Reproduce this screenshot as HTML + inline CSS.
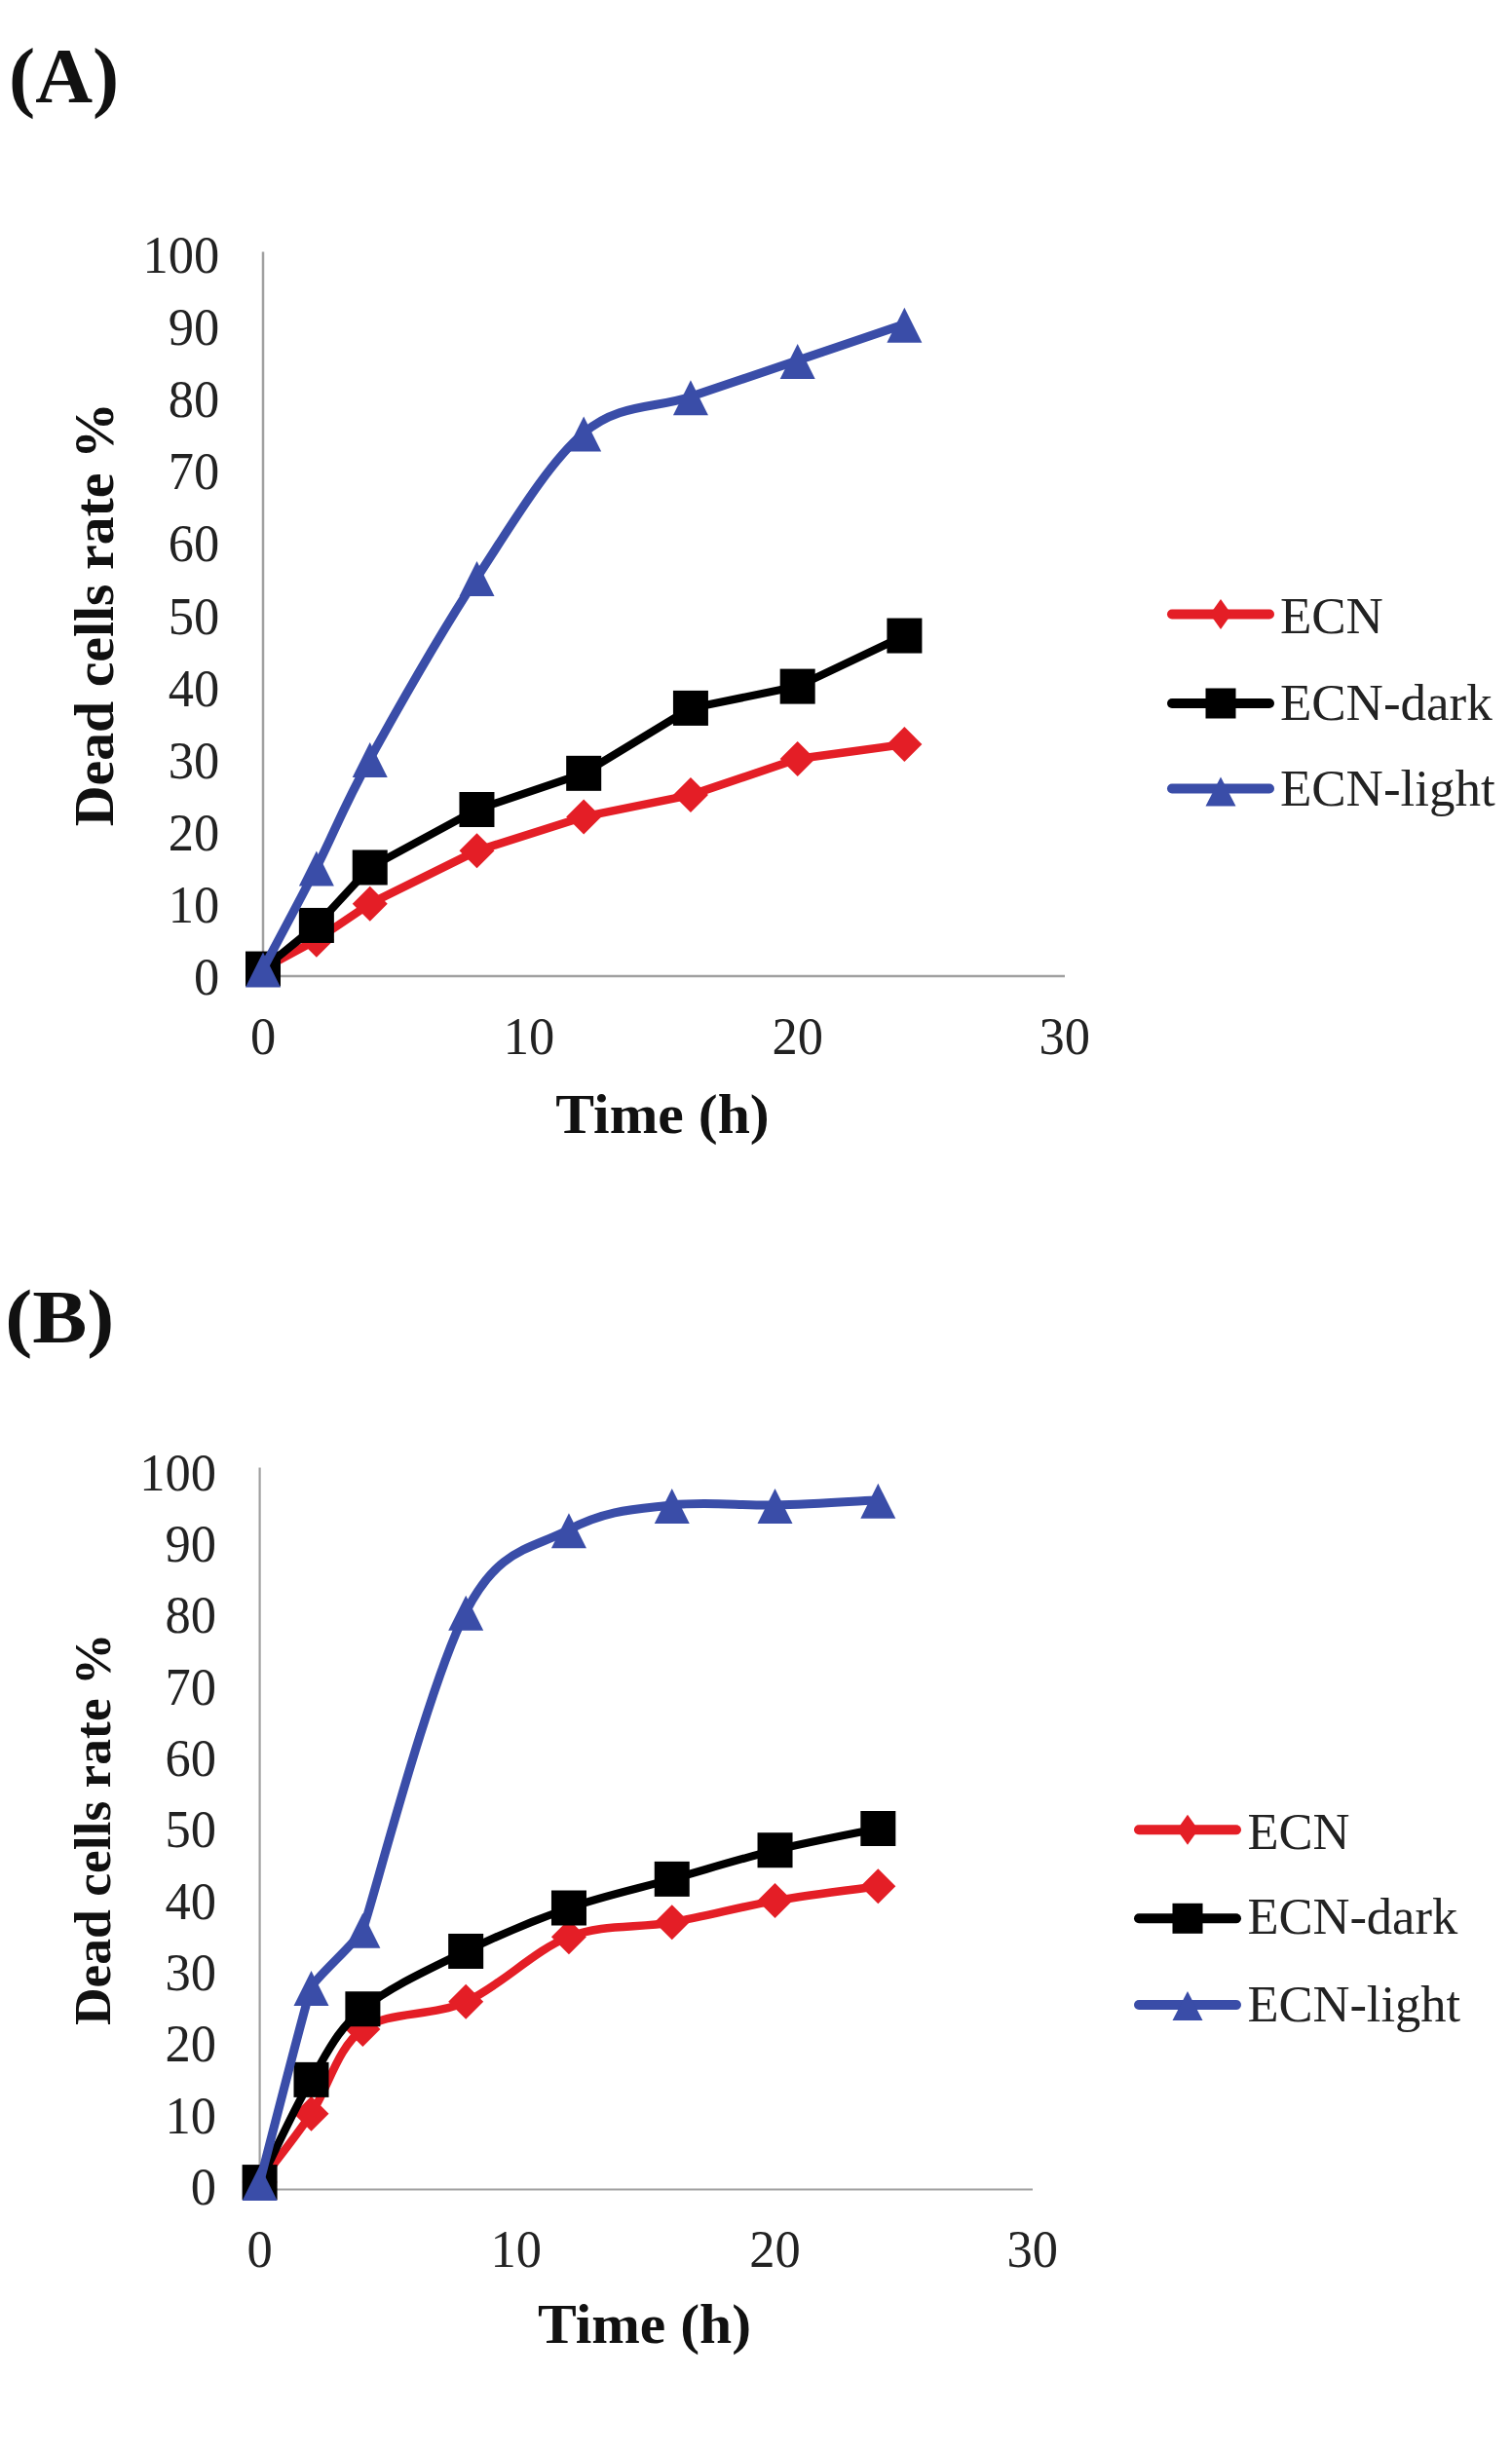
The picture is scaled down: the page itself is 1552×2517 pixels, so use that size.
<!DOCTYPE html>
<html><head><meta charset="utf-8"><title>Dead cells rate</title>
<style>html,body{margin:0;padding:0;background:#fff;width:1552px;height:2517px;overflow:hidden}svg{display:block}</style>
</head><body>
<svg width="1552" height="2517" viewBox="0 0 1552 2517">
<rect width="1552" height="2517" fill="#fff"/>
<g font-family="Liberation Serif, serif" font-size="100" fill="#1a1a1a">
<line x1="270" y1="258.5" x2="270" y2="1002" stroke="#A0A0A0" stroke-width="2.5"/>
<line x1="270" y1="1002" x2="1093" y2="1002" stroke="#A0A0A0" stroke-width="2.5"/>
<path d="M270.00,994.57 L324.87,964.83 L379.73,927.65 L489.47,873.37 L599.20,838.43 L708.93,816.12 L818.67,778.95 L928.40,764.08" fill="none" stroke="#E41E26" stroke-width="8.5" stroke-linejoin="round" stroke-linecap="round"/>
<path d="M270.00,976.57 L288.00,994.57 L270.00,1012.57 L252.00,994.57 Z" fill="#E41E26"/>
<path d="M324.87,946.83 L342.87,964.83 L324.87,982.83 L306.87,964.83 Z" fill="#E41E26"/>
<path d="M379.73,909.65 L397.73,927.65 L379.73,945.65 L361.73,927.65 Z" fill="#E41E26"/>
<path d="M489.47,855.37 L507.47,873.37 L489.47,891.37 L471.47,873.37 Z" fill="#E41E26"/>
<path d="M599.20,820.43 L617.20,838.43 L599.20,856.43 L581.20,838.43 Z" fill="#E41E26"/>
<path d="M708.93,798.12 L726.93,816.12 L708.93,834.12 L690.93,816.12 Z" fill="#E41E26"/>
<path d="M818.67,760.95 L836.67,778.95 L818.67,796.95 L800.67,778.95 Z" fill="#E41E26"/>
<path d="M928.40,746.08 L946.40,764.08 L928.40,782.08 L910.40,764.08 Z" fill="#E41E26"/>
<path d="M270.00,994.57 L324.87,949.96 L379.73,890.48 L489.47,831.00 L599.20,793.82 L708.93,726.90 L818.67,704.60 L928.40,652.56" fill="none" stroke="#000000" stroke-width="8.2" stroke-linejoin="round" stroke-linecap="round"/>
<rect x="252.00" y="976.57" width="36" height="36" fill="#000000"/>
<rect x="306.87" y="931.96" width="36" height="36" fill="#000000"/>
<rect x="361.73" y="872.48" width="36" height="36" fill="#000000"/>
<rect x="471.47" y="813.00" width="36" height="36" fill="#000000"/>
<rect x="581.20" y="775.82" width="36" height="36" fill="#000000"/>
<rect x="690.93" y="708.90" width="36" height="36" fill="#000000"/>
<rect x="800.67" y="686.60" width="36" height="36" fill="#000000"/>
<rect x="910.40" y="634.56" width="36" height="36" fill="#000000"/>
<path d="M270.00,994.57 C279.14,977.22 306.58,926.41 324.87,890.48 C343.16,854.54 352.30,828.52 379.73,778.95 C407.17,729.38 452.89,648.84 489.47,593.08 C526.04,537.31 562.62,475.35 599.20,444.38 C635.78,413.40 672.36,419.59 708.93,407.20 C745.51,394.81 782.09,382.42 818.67,370.02 C855.24,357.63 910.11,339.05 928.40,332.85" fill="none" stroke="#3A4DA8" stroke-width="9" stroke-linejoin="round" stroke-linecap="round"/>
<path d="M270.00,977.57 L288.00,1013.57 L252.00,1013.57 Z" fill="#3A4DA8"/>
<path d="M324.87,873.48 L342.87,909.48 L306.87,909.48 Z" fill="#3A4DA8"/>
<path d="M379.73,761.95 L397.73,797.95 L361.73,797.95 Z" fill="#3A4DA8"/>
<path d="M489.47,576.08 L507.47,612.08 L471.47,612.08 Z" fill="#3A4DA8"/>
<path d="M599.20,427.38 L617.20,463.38 L581.20,463.38 Z" fill="#3A4DA8"/>
<path d="M708.93,390.20 L726.93,426.20 L690.93,426.20 Z" fill="#3A4DA8"/>
<path d="M818.67,353.02 L836.67,389.02 L800.67,389.02 Z" fill="#3A4DA8"/>
<path d="M928.40,315.85 L946.40,351.85 L910.40,351.85 Z" fill="#3A4DA8"/>
<text transform="translate(199.05,1021.20) scale(0.5250,0.5400)" fill="#222">0</text>
<text transform="translate(172.80,947.06) scale(0.5250,0.5400)" fill="#222">10</text>
<text transform="translate(172.80,872.92) scale(0.5250,0.5400)" fill="#222">20</text>
<text transform="translate(172.80,798.78) scale(0.5250,0.5400)" fill="#222">30</text>
<text transform="translate(172.80,724.64) scale(0.5250,0.5400)" fill="#222">40</text>
<text transform="translate(172.80,650.50) scale(0.5250,0.5400)" fill="#222">50</text>
<text transform="translate(172.80,576.36) scale(0.5250,0.5400)" fill="#222">60</text>
<text transform="translate(172.80,502.22) scale(0.5250,0.5400)" fill="#222">70</text>
<text transform="translate(172.80,428.08) scale(0.5250,0.5400)" fill="#222">80</text>
<text transform="translate(172.80,353.94) scale(0.5250,0.5400)" fill="#222">90</text>
<text transform="translate(146.55,279.80) scale(0.5250,0.5400)" fill="#222">100</text>
<text transform="translate(256.88,1082.00) scale(0.5250,0.5400)" fill="#222">0</text>
<text transform="translate(516.77,1082.00) scale(0.5250,0.5400)" fill="#222">10</text>
<text transform="translate(792.42,1082.00) scale(0.5250,0.5400)" fill="#222">20</text>
<text transform="translate(1066.49,1082.00) scale(0.5250,0.5400)" fill="#222">30</text>
<text transform="translate(570.31,1162.80) scale(0.5970,0.5700)" font-weight="bold" fill="#111">Time (h)</text>
<text transform="translate(116.20,847.00) rotate(-90) scale(0.5780,0.5650)" x="-2" font-weight="bold" fill="#111">Dead cells rate %</text>
<text transform="translate(9.04,104.90) scale(0.8150,0.7950)" font-weight="bold" fill="#111">(A)</text>
<line x1="1203" y1="630.5" x2="1303" y2="630.5" stroke="#E41E26" stroke-width="10" stroke-linecap="round"/>
<path d="M1253.00,615.00 L1264.00,630.50 L1253.00,646.00 L1242.00,630.50 Z" fill="#E41E26"/>
<text transform="translate(1313.91,650.00) scale(0.5300,0.5300)" fill="#222">ECN</text>
<line x1="1203" y1="722" x2="1303" y2="722" stroke="#000000" stroke-width="10" stroke-linecap="round"/>
<rect x="1237.50" y="706.50" width="31" height="31" fill="#000000"/>
<text transform="translate(1313.91,738.50) scale(0.5300,0.5300)" fill="#222">ECN-dark</text>
<line x1="1203" y1="809.5" x2="1303" y2="809.5" stroke="#3A4DA8" stroke-width="10" stroke-linecap="round"/>
<path d="M1253.00,797.50 L1268.50,827.50 L1237.50,827.50 Z" fill="#3A4DA8"/>
<text transform="translate(1313.91,827.00) scale(0.5300,0.5300)" fill="#222">ECN-light</text>
<line x1="266.6" y1="1506.5" x2="266.6" y2="2247.5" stroke="#A0A0A0" stroke-width="2.2"/>
<line x1="266.6" y1="2247.5" x2="1060" y2="2247.5" stroke="#A0A0A0" stroke-width="2.2"/>
<path d="M266.60,2240.09 C275.42,2228.36 301.86,2195.88 319.49,2169.70 C337.12,2143.51 345.94,2102.14 372.39,2083.00 C398.83,2063.86 442.91,2070.65 478.17,2054.84 C513.44,2039.03 548.70,2001.74 583.96,1988.15 C619.22,1974.57 654.48,1979.50 689.75,1973.33 C725.01,1967.15 760.27,1957.27 795.53,1951.10 C830.80,1944.92 883.69,1938.75 901.32,1936.28" fill="none" stroke="#E41E26" stroke-width="8.5" stroke-linejoin="round" stroke-linecap="round"/>
<path d="M266.60,2222.09 L284.60,2240.09 L266.60,2258.09 L248.60,2240.09 Z" fill="#E41E26"/>
<path d="M319.49,2151.70 L337.49,2169.70 L319.49,2187.70 L301.49,2169.70 Z" fill="#E41E26"/>
<path d="M372.39,2065.00 L390.39,2083.00 L372.39,2101.00 L354.39,2083.00 Z" fill="#E41E26"/>
<path d="M478.17,2036.84 L496.17,2054.84 L478.17,2072.84 L460.17,2054.84 Z" fill="#E41E26"/>
<path d="M583.96,1970.15 L601.96,1988.15 L583.96,2006.15 L565.96,1988.15 Z" fill="#E41E26"/>
<path d="M689.75,1955.33 L707.75,1973.33 L689.75,1991.33 L671.75,1973.33 Z" fill="#E41E26"/>
<path d="M795.53,1933.10 L813.53,1951.10 L795.53,1969.10 L777.53,1951.10 Z" fill="#E41E26"/>
<path d="M901.32,1918.28 L919.32,1936.28 L901.32,1954.28 L883.32,1936.28 Z" fill="#E41E26"/>
<path d="M266.60,2240.09 C275.42,2222.55 301.86,2164.51 319.49,2134.87 C337.12,2105.23 345.94,2084.23 372.39,2062.25 C398.83,2040.27 442.91,2020.26 478.17,2002.97 C513.44,1985.68 548.70,1970.86 583.96,1958.51 C619.22,1946.16 654.48,1938.75 689.75,1928.87 C725.01,1918.99 760.27,1907.88 795.53,1899.23 C830.80,1890.59 883.69,1880.70 901.32,1877.00" fill="none" stroke="#000000" stroke-width="8.2" stroke-linejoin="round" stroke-linecap="round"/>
<rect x="248.60" y="2222.09" width="36" height="36" fill="#000000"/>
<rect x="301.49" y="2116.87" width="36" height="36" fill="#000000"/>
<rect x="354.39" y="2044.25" width="36" height="36" fill="#000000"/>
<rect x="460.17" y="1984.97" width="36" height="36" fill="#000000"/>
<rect x="565.96" y="1940.51" width="36" height="36" fill="#000000"/>
<rect x="671.75" y="1910.87" width="36" height="36" fill="#000000"/>
<rect x="777.53" y="1881.23" width="36" height="36" fill="#000000"/>
<rect x="883.32" y="1859.00" width="36" height="36" fill="#000000"/>
<path d="M266.60,2240.09 C275.42,2206.74 315.09,2050.83 319.49,2040.02 C323.24,2030.82 367.85,1991.76 372.39,1980.74 C380.32,1961.47 439.38,1729.96 478.17,1654.70 C512.28,1588.52 543.41,1591.25 583.96,1570.23 C624.51,1549.21 654.48,1549.23 689.75,1545.03 C725.01,1540.83 760.27,1545.90 795.53,1545.03 C830.80,1544.17 883.69,1540.71 901.32,1539.85" fill="none" stroke="#3A4DA8" stroke-width="9" stroke-linejoin="round" stroke-linecap="round"/>
<path d="M266.60,2223.09 L284.60,2259.09 L248.60,2259.09 Z" fill="#3A4DA8"/>
<path d="M319.49,2023.02 L337.49,2059.02 L301.49,2059.02 Z" fill="#3A4DA8"/>
<path d="M372.39,1963.74 L390.39,1999.74 L354.39,1999.74 Z" fill="#3A4DA8"/>
<path d="M478.17,1637.70 L496.17,1673.70 L460.17,1673.70 Z" fill="#3A4DA8"/>
<path d="M583.96,1553.23 L601.96,1589.23 L565.96,1589.23 Z" fill="#3A4DA8"/>
<path d="M689.75,1528.03 L707.75,1564.03 L671.75,1564.03 Z" fill="#3A4DA8"/>
<path d="M795.53,1528.03 L813.53,1564.03 L777.53,1564.03 Z" fill="#3A4DA8"/>
<path d="M901.32,1522.85 L919.32,1558.85 L883.32,1558.85 Z" fill="#3A4DA8"/>
<text transform="translate(195.65,2263.20) scale(0.5250,0.5400)" fill="#222">0</text>
<text transform="translate(169.40,2189.84) scale(0.5250,0.5400)" fill="#222">10</text>
<text transform="translate(169.40,2116.48) scale(0.5250,0.5400)" fill="#222">20</text>
<text transform="translate(169.40,2043.12) scale(0.5250,0.5400)" fill="#222">30</text>
<text transform="translate(169.40,1969.76) scale(0.5250,0.5400)" fill="#222">40</text>
<text transform="translate(169.40,1896.40) scale(0.5250,0.5400)" fill="#222">50</text>
<text transform="translate(169.40,1823.04) scale(0.5250,0.5400)" fill="#222">60</text>
<text transform="translate(169.40,1749.68) scale(0.5250,0.5400)" fill="#222">70</text>
<text transform="translate(169.40,1676.32) scale(0.5250,0.5400)" fill="#222">80</text>
<text transform="translate(169.40,1602.96) scale(0.5250,0.5400)" fill="#222">90</text>
<text transform="translate(143.15,1529.60) scale(0.5250,0.5400)" fill="#222">100</text>
<text transform="translate(253.48,2327.00) scale(0.5250,0.5400)" fill="#222">0</text>
<text transform="translate(503.50,2327.00) scale(0.5250,0.5400)" fill="#222">10</text>
<text transform="translate(769.28,2327.00) scale(0.5250,0.5400)" fill="#222">20</text>
<text transform="translate(1033.49,2327.00) scale(0.5250,0.5400)" fill="#222">30</text>
<text transform="translate(552.01,2404.50) scale(0.5960,0.5700)" font-weight="bold" fill="#111">Time (h)</text>
<text transform="translate(112.60,2078.00) rotate(-90) scale(0.5350,0.5200)" x="-2" font-weight="bold" fill="#111">Dead cells rate %</text>
<text transform="translate(5.24,1378.20) scale(0.8410,0.7780)" font-weight="bold" fill="#111">(B)</text>
<line x1="1169" y1="1878.3" x2="1269" y2="1878.3" stroke="#E41E26" stroke-width="10" stroke-linecap="round"/>
<path d="M1219.00,1862.80 L1230.00,1878.30 L1219.00,1893.80 L1208.00,1878.30 Z" fill="#E41E26"/>
<text transform="translate(1280.42,1898.00) scale(0.5250,0.5250)" fill="#222">ECN</text>
<line x1="1169" y1="1969.3" x2="1269" y2="1969.3" stroke="#000000" stroke-width="10" stroke-linecap="round"/>
<rect x="1203.50" y="1953.80" width="31" height="31" fill="#000000"/>
<text transform="translate(1280.42,1985.30) scale(0.5250,0.5250)" fill="#222">ECN-dark</text>
<line x1="1169" y1="2058" x2="1269" y2="2058" stroke="#3A4DA8" stroke-width="10" stroke-linecap="round"/>
<path d="M1219.00,2044.00 L1234.50,2074.00 L1203.50,2074.00 Z" fill="#3A4DA8"/>
<text transform="translate(1280.42,2075.00) scale(0.5250,0.5250)" fill="#222">ECN-light</text>
</g></svg></body></html>
